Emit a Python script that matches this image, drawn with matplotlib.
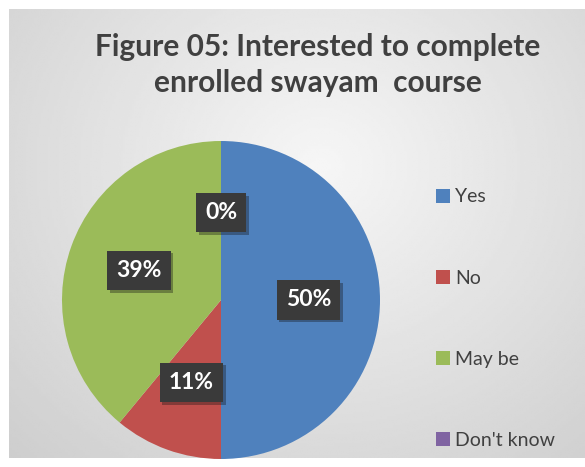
import numpy as np
import matplotlib.pyplot as plt
import matplotlib.patheffects as pe
from matplotlib.patches import Patch

labels = ['Yes', 'No', 'May be', "Don't know"]
values = [50, 11, 39, 0]
colors = ['#4F81BD', '#C0504D', '#9BBB59', '#8064A2']
title = 'Figure 05: Interested to complete\nenrolled swayam  course'


def main():
    W, H = 585, 467
    fig = plt.figure(figsize=(W / 100, H / 100), dpi=100)
    fig.patch.set_facecolor('white')

    # gray radial background, lighter in the upper middle
    bg = fig.add_axes([9 / W, 9 / H, 576 / W, 449 / H])
    yy, xx = np.mgrid[0:200, 0:260]
    cx, cy = 140, 70
    d = np.sqrt(((xx - cx) / 190) ** 2 + ((yy - cy) / 170) ** 2)
    shade = np.clip(0.965 - 0.15 * d, 0.80, 0.965)
    bg.imshow(shade, cmap='gray', vmin=0, vmax=1, aspect='auto',
              extent=[0, 1, 0, 1], interpolation='bilinear')
    bg.set_axis_off()

    r = 159
    ax = fig.add_axes([(221 - r) / W, (H - 300 - r) / H, 2 * r / W, 2 * r / H])
    wedges, texts, autotexts = ax.pie(
        values, colors=colors, startangle=90, counterclock=False,
        autopct='%1.0f%%', pctdistance=0.55, radius=1,
        wedgeprops=dict(linewidth=0))
    for t in autotexts:
        t.set_color('white')
        t.set_fontsize(16.5)
        t.set_fontweight('bold')
        t.set_family('Lato')
        t.set_bbox(dict(boxstyle='square,pad=0.4', facecolor='#3a3a3a',
                        edgecolor='none',
                        path_effects=[pe.SimplePatchShadow(offset=(2, -2),
                                                           alpha=0.35),
                                      pe.Normal()]))
    ax.set_xlim(-1, 1)
    ax.set_ylim(-1, 1)
    ax.set_aspect('equal')

    fig.text(318 / W, 1 - 65 / H, title, ha='center', va='center',
             fontsize=21.5, fontweight='bold', family='Lato',
             color='#404040', linespacing=1.38)

    handles = [Patch(facecolor=c, edgecolor='none') for c in colors]
    fig.legend(handles, labels, loc='upper left',
               bbox_to_anchor=(418 / W, 1 - 171 / H), frameon=False,
               labelspacing=3.3, handlelength=0.75, handleheight=0.75,
               handletextpad=0.25, labelcolor='#404040',
               prop={'family': 'Lato', 'size': 14})

    fig.savefig('out.png', dpi=100)


if __name__ == '__main__':
    main()
